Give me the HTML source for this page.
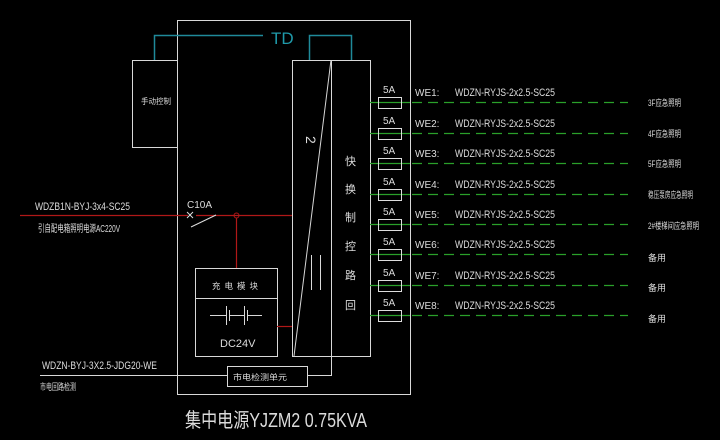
<!DOCTYPE html>
<html><head><meta charset="utf-8"><style>
html,body{margin:0;padding:0;background:#000;}
svg{display:block}
text{font-family:"Liberation Sans","Noto Sans CJK SC",sans-serif;fill:#dcdcdc}
</style></head><body>
<svg width="720" height="440" viewBox="0 0 720 440" xmlns="http://www.w3.org/2000/svg">
<rect width="720" height="440" fill="#000"/>
<g stroke="#d8d8d8" stroke-width="1" fill="none">
<rect x="177.5" y="20.5" width="233" height="374"/>
<rect x="132.5" y="60.5" width="45" height="87"/>
<rect x="292.5" y="60.5" width="78" height="296"/>
<line x1="331.5" y1="60" x2="331.5" y2="375"/>
<line x1="331" y1="60" x2="294" y2="356"/>
<line x1="307" y1="375.5" x2="332" y2="375.5"/>
<rect x="195.5" y="268.5" width="82" height="88"/>
<line x1="195" y1="298.5" x2="277" y2="298.5"/>
<rect x="227.5" y="366.5" width="80" height="20"/>
<line x1="40" y1="375.5" x2="227" y2="375.5"/>
<line x1="311.5" y1="255" x2="311.5" y2="290"/>
<line x1="320.5" y1="255" x2="320.5" y2="290"/>
<line x1="210" y1="315.5" x2="226" y2="315.5"/>
<line x1="226.5" y1="306" x2="226.5" y2="325"/>
<line x1="229.5" y1="310" x2="229.5" y2="321"/>
<line x1="229" y1="315.5" x2="244" y2="315.5"/>
<line x1="244.5" y1="306" x2="244.5" y2="325"/>
<line x1="247.5" y1="310" x2="247.5" y2="321"/>
<line x1="247" y1="315.5" x2="262" y2="315.5"/>
</g>
<text x="306" y="146" style="font-size:14px" transform="rotate(90 311 141)">2</text>
<g stroke="#1f8a9a" stroke-width="1.5" fill="none">
<polyline points="154.5,60 154.5,35.5 263,35.5"/>
<polyline points="309.5,60 309.5,35.5 351.5,35.5 351.5,60"/>
</g>
<text x="271" y="44" style="fill:#1f9aaa;font-size:17px">TD</text>
<g stroke="#b01818" stroke-width="1.2" fill="none">
<line x1="20" y1="215.5" x2="188" y2="215.5"/>
<line x1="196" y1="215.5" x2="292" y2="215.5"/>
<line x1="236.5" y1="218" x2="236.5" y2="268"/>
<line x1="277" y1="326.5" x2="292" y2="326.5"/>
</g>
<circle cx="236.5" cy="215.5" r="2.5" stroke="#b01818" fill="none"/>
<g stroke="#ddd" fill="none"><line x1="187" y1="212" x2="193" y2="218"/><line x1="193" y1="212" x2="187" y2="218"/><line x1="191" y1="227" x2="216" y2="215"/></g>
<g lengthAdjust="spacingAndGlyphs">
<text x="141" y="104" style="font-size:8px" textLength="30" lengthAdjust="spacingAndGlyphs">手动控制</text>
<text x="35" y="210" style="font-size:11px" textLength="95" lengthAdjust="spacingAndGlyphs">WDZB1N-BYJ-3x4-SC25</text>
<text x="38" y="232" style="font-size:10px" textLength="82" lengthAdjust="spacingAndGlyphs">引自配电箱照明电源AC220V</text>
<text x="187" y="208" style="font-size:10px">C10A</text>
<text x="212" y="289" style="font-size:8.5px;letter-spacing:4px">充电模块</text>
<text x="220" y="347" style="font-size:11px">DC24V</text>
<text x="42" y="369" style="font-size:11px" textLength="115" lengthAdjust="spacingAndGlyphs">WDZN-BYJ-3X2.5-JDG20-WE</text>
<text x="40" y="390" style="font-size:9px" textLength="36" lengthAdjust="spacingAndGlyphs">市电回路检测</text>
<text x="233" y="380" style="font-size:8px" textLength="54" lengthAdjust="spacingAndGlyphs">市电检测单元</text>
<text x="185" y="427" style="font-size:20px" textLength="182" lengthAdjust="spacingAndGlyphs">集中电源YJZM2  0.75KVA</text>
</g>
<g style="font-size:11px">
<text x="345" y="165">快</text><text x="345" y="193">换</text><text x="345" y="221">制</text><text x="345" y="250">控</text><text x="345" y="279">路</text><text x="345" y="309">回</text>
</g>
<g stroke="#2aa02a" stroke-width="1.2" fill="none">
<path d="M370 102.5h40M370 133.5h40M370 163.5h40M370 194.5h40M370 224.5h40M370 254.5h40M370 285.5h40M370 315.5h40"/>
<path stroke-dasharray="10,6" d="M412 102.5h216M412 133.5h216M412 163.5h216M412 194.5h216M412 224.5h216M412 254.5h216M412 285.5h216M412 315.5h216"/>
</g>
<g stroke="#ddd" fill="none">
<rect x="378.5" y="97.5" width="23" height="11"/><rect x="378.5" y="128.5" width="23" height="11"/><rect x="378.5" y="158.5" width="23" height="11"/><rect x="378.5" y="189.5" width="23" height="11"/><rect x="378.5" y="219.5" width="23" height="11"/><rect x="378.5" y="249.5" width="23" height="11"/><rect x="378.5" y="280.5" width="23" height="11"/><rect x="378.5" y="310.5" width="23" height="11"/>
</g>
<g style="font-size:10px">
<text x="383" y="93">5A</text><text x="383" y="124">5A</text><text x="383" y="154">5A</text><text x="383" y="185">5A</text><text x="383" y="215">5A</text><text x="383" y="245">5A</text><text x="383" y="276">5A</text><text x="383" y="306">5A</text>
<text x="415" y="96">WE1:</text><text x="415" y="127">WE2:</text><text x="415" y="157">WE3:</text><text x="415" y="188">WE4:</text><text x="415" y="218">WE5:</text><text x="415" y="248">WE6:</text><text x="415" y="279">WE7:</text><text x="415" y="309">WE8:</text>
</g>
<g style="font-size:11px">
<text x="455" y="96" textLength="100" lengthAdjust="spacingAndGlyphs">WDZN-RYJS-2x2.5-SC25</text><text x="455" y="127" textLength="100" lengthAdjust="spacingAndGlyphs">WDZN-RYJS-2x2.5-SC25</text><text x="455" y="157" textLength="100" lengthAdjust="spacingAndGlyphs">WDZN-RYJS-2x2.5-SC25</text><text x="455" y="188" textLength="100" lengthAdjust="spacingAndGlyphs">WDZN-RYJS-2x2.5-SC25</text><text x="455" y="218" textLength="100" lengthAdjust="spacingAndGlyphs">WDZN-RYJS-2x2.5-SC25</text><text x="455" y="248" textLength="100" lengthAdjust="spacingAndGlyphs">WDZN-RYJS-2x2.5-SC25</text><text x="455" y="279" textLength="100" lengthAdjust="spacingAndGlyphs">WDZN-RYJS-2x2.5-SC25</text><text x="455" y="309" textLength="100" lengthAdjust="spacingAndGlyphs">WDZN-RYJS-2x2.5-SC25</text>
</g>
<g style="font-size:9px">
<text x="648" y="106" textLength="33" lengthAdjust="spacingAndGlyphs">3F应急照明</text><text x="648" y="137" textLength="33" lengthAdjust="spacingAndGlyphs">4F应急照明</text><text x="648" y="167" textLength="33" lengthAdjust="spacingAndGlyphs">5F应急照明</text><text x="648" y="198" textLength="45" lengthAdjust="spacingAndGlyphs">稳压泵房应急照明</text><text x="648" y="229" textLength="51" lengthAdjust="spacingAndGlyphs">2#楼梯间应急照明</text><text x="648" y="261">备用</text><text x="648" y="291">备用</text><text x="648" y="322">备用</text>
</g>
</svg>
</body></html>
